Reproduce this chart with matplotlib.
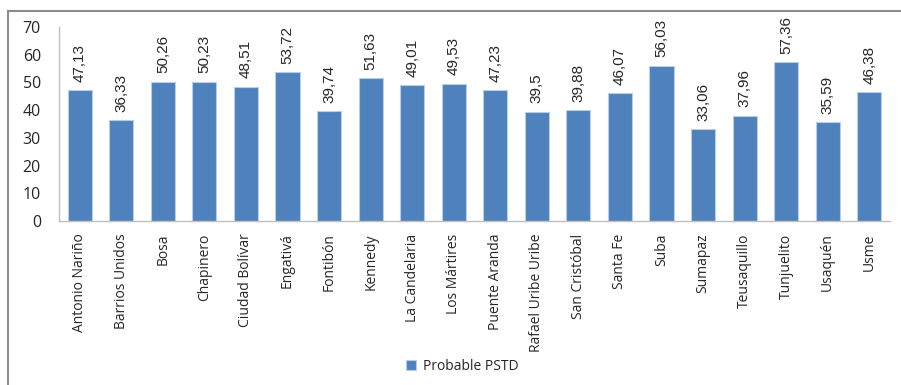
import matplotlib
matplotlib.use("Agg")
import matplotlib.pyplot as plt
from matplotlib.patches import Rectangle

# ---------------------------------------------------------------------------
# Data
# ---------------------------------------------------------------------------
localidades = [
    "Antonio Nariño", "Barrios Unidos", "Bosa", "Chapinero", "Ciudad Bolívar",
    "Engativá", "Fontibón", "Kennedy", "La Candelaria", "Los Mártires",
    "Puente Aranda", "Rafael Uribe Uribe", "San Cristóbal", "Santa Fe", "Suba",
    "Sumapaz", "Teusaquillo", "Tunjuelito", "Usaquén", "Usme",
]
pstd = [
    47.13, 36.33, 50.26, 50.23, 48.51,
    53.72, 39.74, 51.63, 49.01, 49.53,
    47.23, 39.5, 39.88, 46.07, 56.03,
    33.06, 37.96, 57.36, 35.59, 46.38,
]
y_ticks = [0, 10, 20, 30, 40, 50, 60, 70]
series_name = "Probable PSTD"

BAR_COLOR = "#4F81BD"
AXIS_COLOR = "#BFBFBF"
TEXT_COLOR = "#262626"
LABEL_FONT = ["Open Sans", "DejaVu Sans"]
VALUE_FONT = ["Liberation Sans Narrow", "Liberation Sans", "DejaVu Sans"]

fig = plt.figure(figsize=(9.01, 3.85), dpi=100, facecolor="white")
ax = fig.add_axes([59 / 901, 1 - 221 / 385, 831 / 901, 194 / 385])

x = range(len(localidades))
bars = ax.bar(x, pstd, width=0.58, color=BAR_COLOR, edgecolor="#B9CDE5",
              linewidth=0.8, label=series_name, zorder=2)

# rotated value labels above each bar
for rect, v in zip(bars, pstd):
    txt = f"{v:g}".replace(".", ",")
    ax.annotate(txt, (rect.get_x() + rect.get_width() / 2, rect.get_height()),
                xytext=(0, 6), textcoords="offset points", rotation=90,
                ha="center", va="bottom", fontsize=11, color=TEXT_COLOR,
                family=VALUE_FONT)

ax.set_xlim(-0.5, len(localidades) - 0.5)
ax.set_ylim(0, 70)
ax.set_yticks(y_ticks)
ax.set_yticklabels([str(t) for t in y_ticks], family=LABEL_FONT,
                   fontsize=11.5, color=TEXT_COLOR)
ax.set_xticks(list(x))
ax.set_xticklabels(localidades, rotation=90, family=LABEL_FONT,
                   fontsize=10, color=TEXT_COLOR)
ax.tick_params(axis="both", length=0)
ax.tick_params(axis="y", pad=13)
ax.tick_params(axis="x", pad=9)

for side in ("top", "right"):
    ax.spines[side].set_visible(False)
for side in ("left", "bottom"):
    ax.spines[side].set_color(AXIS_COLOR)
    ax.spines[side].set_linewidth(1.0)

leg = fig.legend(loc="center", bbox_to_anchor=(462 / 901, 1 - 366 / 385),
                 frameon=False, handlelength=0.7, handleheight=0.7,
                 handletextpad=0.5,
                 prop={"family": LABEL_FONT, "size": 10})
for t in leg.get_texts():
    t.set_color(TEXT_COLOR)

# outer chart-area border (only left and top visible in the crop)
fig.patches.append(Rectangle((7.5 / 901, -0.05), 1.2, 1 - 11 / 385 + 0.05,
                             transform=fig.transFigure, fill=False,
                             edgecolor="#8C8C8C", linewidth=1.5))

fig.savefig("out.png", dpi=100, facecolor="white")
